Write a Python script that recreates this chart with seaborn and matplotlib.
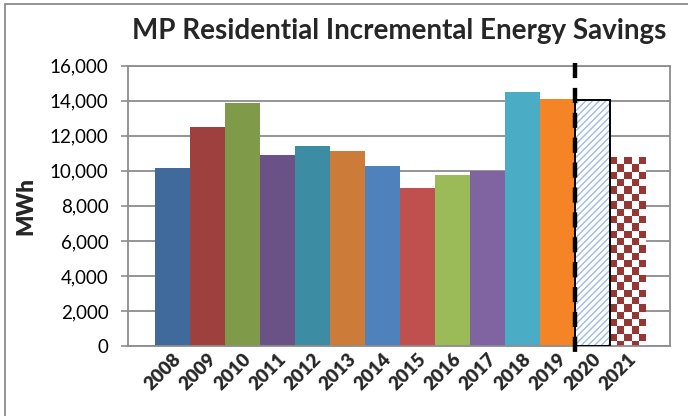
import numpy as np
import pandas as pd
import matplotlib
matplotlib.use("Agg")
import matplotlib.pyplot as plt
from matplotlib.patches import Rectangle
import matplotlib.transforms as mtransforms
import seaborn as sns

# ---- data ----
years = ["2008", "2009", "2010", "2011", "2012", "2013", "2014",
         "2015", "2016", "2017", "2018", "2019", "2020", "2021"]
savings_mwh = [10170, 12500, 13880, 10900, 11430, 11140, 10300,
               9010, 9770, 10000, 14510, 14110, 14020, 10780]
bar_colors = ["#416A9C", "#9E413E", "#7F9A48", "#6A5186", "#3C8DA3", "#CC7B38",
              "#4F81BD", "#C0504D", "#9BBB59", "#8064A2", "#4BACC6", "#F58426",
              "#FFFFFF", "#FFFFFF"]
yticks = [0, 2000, 4000, 6000, 8000, 10000, 12000, 14000, 16000]
hatched_year = "2020"
checker_year = "2021"
divider_before = "2020"

sns.set_theme(style="white")
plt.rcParams["font.family"] = ["Lato", "DejaVu Sans"]
plt.rcParams["hatch.linewidth"] = 1.0

df = pd.DataFrame({"year": years, "mwh": savings_mwh})

fig = plt.figure(figsize=(6.88, 4.16), dpi=100)
ax = fig.add_axes([128/688, 1-346/416, (670-128)/688, (346-65.7)/416])

sns.barplot(data=df, x="year", y="mwh", hue="year", palette=bar_colors,
            legend=False, width=1.0, saturation=1, ax=ax, linewidth=0,
            edgecolor="none", zorder=2)

ax.set_ylim(0, 16000)
ax.set_yticks(yticks)
ax.set_yticklabels([f"{v:,}" for v in yticks], fontsize=13.5, color="#000000")
ax.set_xticks(range(len(years)))
ax.set_xticklabels(years, rotation=45, ha="right", rotation_mode="anchor",
                   fontsize=13.5, fontweight="heavy")
ax.tick_params(axis="x", length=0, pad=3)
ax.tick_params(axis="y", length=5, width=1.2, color="#8C8C8C", direction="out",
               left=True, pad=9)
ax.yaxis.grid(True, color="#8C8C8C", linewidth=1.3, zorder=0)
ax.set_axisbelow(True)
for s in ax.spines.values():
    s.set_color("#8C8C8C")
    s.set_linewidth(1.3)
ax.set_xlabel("")
ax.set_ylabel("MWh", fontsize=16, fontweight="heavy", labelpad=10)
ax.set_title("MP Residential Incremental Energy Savings", fontsize=20,
             fontweight="bold", pad=19)

patches = ax.patches
# hatched bar
ph = patches[years.index(hatched_year)]
ph.set_facecolor("white")
ph.set_edgecolor("#9DBDE6")
ph.set_hatch("/////")
ph.set_linewidth(0)
ax.add_patch(Rectangle((ph.get_x(), ph.get_y()), ph.get_width(), ph.get_height(),
                       fill=False, edgecolor="black", linewidth=1.4, zorder=3))

# checkerboard bar
pc = patches[years.index(checker_year)]
pc.set_facecolor("white")
ncols = 5
cell_h = 420
nrows = int(np.ceil(pc.get_height() / cell_h))
board = (np.indices((nrows, ncols)).sum(axis=0) % 2)
cmap = matplotlib.colors.ListedColormap(["#953735", "#FFFFFF"])
im = ax.imshow(board, cmap=cmap, interpolation="nearest", aspect="auto",
               origin="upper",
               extent=(pc.get_x(), pc.get_x() + pc.get_width(),
                       pc.get_y() + pc.get_height() - nrows * cell_h,
                       pc.get_y() + pc.get_height()),
               zorder=2.5)
im.set_clip_path(pc)
ax.set_xlim(-1.27, len(years) - 1 + 1.21)
ax.set_ylim(0, 16000)

# dashed divider
xdiv = years.index(divider_before) - 0.5
trans = mtransforms.blended_transform_factory(ax.transData, ax.transAxes)
ax.plot([xdiv, xdiv], [1.01, -0.022], transform=trans, color="black",
        linewidth=3.2, linestyle=(0, (3.4, 2.2)), clip_on=False, zorder=5,
        solid_capstyle="butt", dash_capstyle="butt")

# outer chart border
fig.add_artist(Rectangle((5/688, -0.1), 1.2, (1 - 4/416) + 0.1,
                         transform=fig.transFigure, fill=False,
                         edgecolor="#8C8C8C", linewidth=1.3))

fig.savefig("out.png", dpi=100)
